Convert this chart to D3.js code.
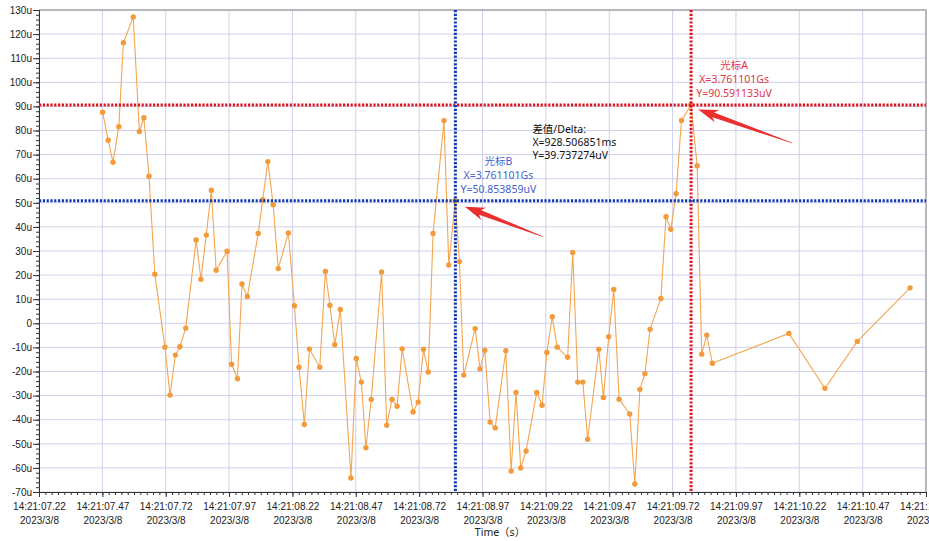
<!DOCTYPE html>
<html>
<head>
<meta charset="utf-8">
<script src="https://cdn.jsdelivr.net/npm/d3@7"></script>
<style>
    body { margin: 0; background: #fff; }
    svg { display: block; font-family: "Noto Sans", "Noto Sans CJK SC", sans-serif; }
    .grid line { stroke: #d0d0ec; stroke-width: 1; }
    .axis line, .axis path { stroke: #333; }
    .axis text { fill: #222; font-size: 10px; }
    .series { fill: none; stroke: #f4a650; stroke-width: 1.1; }
    .marker { fill: #f39a3a; }
</style>
</head>
<body>
<svg id="chart" width="929" height="541"></svg>
<script>
// sample times in seconds past 14:21:00 (2023/3/8), values in uV
const times = [7.471, 7.493, 7.512, 7.535, 7.553, 7.592, 7.616, 7.634, 7.654, 7.677,
    7.717, 7.737, 7.758, 7.776, 7.799, 7.840, 7.859, 7.880, 7.900, 7.919,
    7.962, 7.980, 8.003, 8.021, 8.042, 8.085, 8.103, 8.123, 8.144, 8.164,
    8.204, 8.228, 8.246, 8.267, 8.287, 8.328, 8.350, 8.368, 8.387, 8.409,
    8.451, 8.472, 8.492, 8.510, 8.531, 8.572, 8.592, 8.613, 8.633, 8.653,
    8.696, 8.716, 8.737, 8.756, 8.775, 8.818, 8.837, 8.862, 8.879, 8.896,
    8.941, 8.960, 8.979, 9.000, 9.020, 9.062, 9.083, 9.102, 9.121, 9.142,
    9.184, 9.205, 9.224, 9.245, 9.265, 9.306, 9.326, 9.346, 9.366, 9.385,
    9.429, 9.447, 9.468, 9.488, 9.509, 9.551, 9.571, 9.591, 9.611, 9.631,
    9.674, 9.694, 9.713, 9.734, 9.755, 9.793, 9.817, 9.835, 9.855, 9.877,
    10.179, 10.321, 10.449, 10.657];
const values = [87.6, 76.0, 66.8, 81.6, 116.4, 127.1, 79.6, 85.3, 61.0, 20.4,
    -9.9, -29.8, -13.2, -9.7, -2.0, 34.6, 18.3, 36.6, 55.2, 22.0,
    29.9, -17.0, -23.0, 16.3, 11.1, 37.3, 51.3, 67.1, 49.2, 22.7,
    37.5, 7.3, -18.2, -42.0, -10.7, -18.2, 21.5, 7.5, -8.9, 5.7,
    -64.2, -14.6, -24.4, -51.6, -31.6, 21.3, -42.3, -31.6, -34.4, -10.6,
    -36.8, -32.7, -10.8, -20.2, 37.3, 84.1, 24.2, 50.85, 25.6, -21.5,
    -2.2, -18.9, -11.2, -41.0, -43.4, -11.4, -61.3, -28.7, -60.0, -53.0,
    -28.7, -34.0, -12.1, 2.7, -9.9, -14.1, 29.4, -24.4, -24.4, -48.1,
    -10.8, -30.8, -5.6, 14.0, -31.5, -37.6, -66.7, -27.4, -20.9, -2.5,
    10.3, 44.2, 39.0, 53.8, 84.2, 90.59, 65.4, -12.8, -4.9, -16.6,
    -4.2, -27.0, -7.5, 14.7];

const xTicks = [7.22, 7.47, 7.72, 7.97, 8.22, 8.47, 8.72, 8.97, 9.22, 9.47, 9.72, 9.97, 10.22, 10.47, 10.72];
const yTicks = [-70, -60, -50, -40, -30, -20, -10, 0, 10, 20, 30, 40, 50, 60, 70, 80, 90, 100, 110, 120, 130];
const dateLabel = "2023/3/8";
const xTitle = "Time（s）";

// cursors A and B
const cursorNames = ["光标A", "光标B"];
const cursorTimes = [9.793, 8.863];
const cursorValues = [90.591133, 50.853859];
const cursorXText = ["X=3.761101Gs", "X=3.761101Gs"];
const cursorYText = ["Y=90.591133uV", "Y=50.853859uV"];
const deltaText = ["差值/Delta:", "X=928.506851ms", "Y=39.737274uV"];

// red arrows, tail -> tip (data units)
const arrowTails = [[10.192, 74.8], [9.209, 35.9]];
const arrowTips = [[9.821, 88.7], [8.901, 48.4]];

/** Chart with two measurement cursors. */
class CursorChart {
    constructor() {
        this.svg = d3.select("#chart");
        this.margin = {left: 39, top: 10, right: 3, bottom: 49};
        this.width = 929 - this.margin.left - this.margin.right;
        this.height = 541 - this.margin.top - this.margin.bottom;
        this.x = d3.scaleLinear().domain([7.22, 10.72]).range([0, this.width]);
        this.y = d3.scaleLinear().domain([-70, 130]).range([this.height, 0]);
        this.g = this.svg.append("g")
            .attr("transform", "translate(" + this.margin.left + "," + this.margin.top + ")");
    }

    drawGrid() {
        let grid = this.g.append("g").classed("grid", true);
        grid.selectAll(".v").data(xTicks).enter().append("line")
            .attr("x1", d => this.x(d)).attr("x2", d => this.x(d))
            .attr("y1", 0).attr("y2", this.height);
        grid.selectAll(".h").data(yTicks).enter().append("line")
            .attr("y1", d => this.y(d)).attr("y2", d => this.y(d))
            .attr("x1", 0).attr("x2", this.width);

        // frame top / right
        this.g.append("path")
            .attr("d", "M0,0H" + this.width + "V" + this.height)
            .attr("fill", "none").attr("stroke", "#a8a8a8").attr("stroke-width", 1.5);
    }

    drawAxes() {
        // minor ticks first
        let xMinor = d3.range(0, 141).map(i => 7.22 + i * 0.025);
        let yMinor = d3.range(0, 101).map(i => -70 + i * 2);

        this.g.append("g").classed("axis", true)
            .attr("transform", "translate(0," + this.height + ")")
            .call(d3.axisBottom(this.x).tickValues(xMinor).tickSize(3).tickFormat(""));
        this.g.append("g").classed("axis", true)
            .call(d3.axisLeft(this.y).tickValues(yMinor).tickSize(3).tickFormat(""));

        let xAxis = this.g.append("g").classed("axis", true)
            .attr("transform", "translate(0," + this.height + ")")
            .call(d3.axisBottom(this.x).tickValues(xTicks).tickSize(5).tickSizeOuter(0)
                .tickFormat(d => "14:21:" + d3.format("05.2f")(d)));
        xAxis.selectAll(".tick text").attr("y", 11).attr("dy", "0.71em");
        xAxis.selectAll(".tick").append("text")
            .attr("y", 25).attr("dy", "0.71em").attr("fill", "#222")
            .text(dateLabel);

        let yAxis = this.g.append("g").classed("axis", true)
            .call(d3.axisLeft(this.y).tickValues(yTicks).tickSize(6).tickSizeOuter(0)
                .tickFormat(d => d === 0 ? "0" : d + "u"));
        yAxis.selectAll(".tick text").attr("x", -7);

        this.svg.append("text")
            .attr("x", 500).attr("y", 533)
            .attr("text-anchor", "middle").attr("dominant-baseline", "middle")
            .attr("font-size", 10.5).attr("fill", "#222")
            .text(xTitle);
    }

    drawSeries() {
        let pts = times.map((t, i) => [t, values[i]]);
        let line = d3.line().x(d => this.x(d[0])).y(d => this.y(d[1]));

        this.g.append("path").datum(pts).classed("series", true).attr("d", line);
        this.g.selectAll(".marker").data(pts).enter().append("circle")
            .classed("marker", true)
            .attr("cx", d => this.x(d[0]))
            .attr("cy", d => this.y(d[1]))
            .attr("r", 2.7);
    }

    drawCursors() {
        let colors = ["#e0141e", "#1238b4"];
        let textColors = ["#e4344a", "#3f62cc"];

        cursorTimes.forEach((t, i) => {
            let cx = this.x(t), cy = this.y(cursorValues[i]);
            let c = this.g.append("g");
            c.append("line")
                .attr("x1", 0).attr("x2", this.width).attr("y1", cy).attr("y2", cy);
            c.append("line")
                .attr("x1", cx).attr("x2", cx).attr("y1", 0).attr("y2", this.height);
            c.selectAll("line")
                .attr("stroke", colors[i]).attr("stroke-width", 3)
                .attr("stroke-dasharray", "2.2,1.6");

            let lab = c.append("g").attr("fill", textColors[i]).attr("font-size", 10.5)
                .attr("text-anchor", "middle");
            [cursorNames[i], cursorXText[i], cursorYText[i]].forEach((s, k) => {
                lab.append("text")
                    .attr("x", cx + 43)
                    .attr("y", cy - 39 + k * 14)
                    .attr("dominant-baseline", "middle")
                    .text(s);
            });
        });

        // delta readout, anchored on cursor B
        let dx = this.x(cursorTimes[1]) + 77;
        let dy = this.y(cursorValues[1]) - 71;
        deltaText.forEach((s, k) => {
            this.g.append("text")
                .attr("x", dx).attr("y", dy + k * 13.3)
                .attr("dominant-baseline", "middle")
                .attr("font-size", 10.5).attr("fill", "#111")
                .text(s);
        });
    }

    drawArrows() {
        let that = this;
        arrowTails.forEach((tail, i) => {
            let x0 = that.x(tail[0]), y0 = that.y(tail[1]);
            let x1 = that.x(arrowTips[i][0]), y1 = that.y(arrowTips[i][1]);
            let L = Math.hypot(x1 - x0, y1 - y0);
            let ux = (x1 - x0) / L, uy = (y1 - y0) / L;
            let nx = -uy, ny = ux;
            let head = 20, neck = 16;
            let pt = (a, w) => [x0 + ux * a + nx * w, y0 + uy * a + ny * w];
            let poly = [pt(0, 0.3), pt(L - neck, 2.6), pt(L - head, 6.5), pt(L, 0),
                pt(L - head, -6.5), pt(L - neck, -2.6), pt(0, -0.3)];
            that.g.append("polygon")
                .attr("points", poly.map(p => p.join(",")).join(" "))
                .attr("fill", "#ea2f2f");
        });
    }
}

let chart = new CursorChart();
chart.drawGrid();
chart.drawAxes();
chart.drawSeries();
chart.drawCursors();
chart.drawArrows();
</script>
</body>
</html>
